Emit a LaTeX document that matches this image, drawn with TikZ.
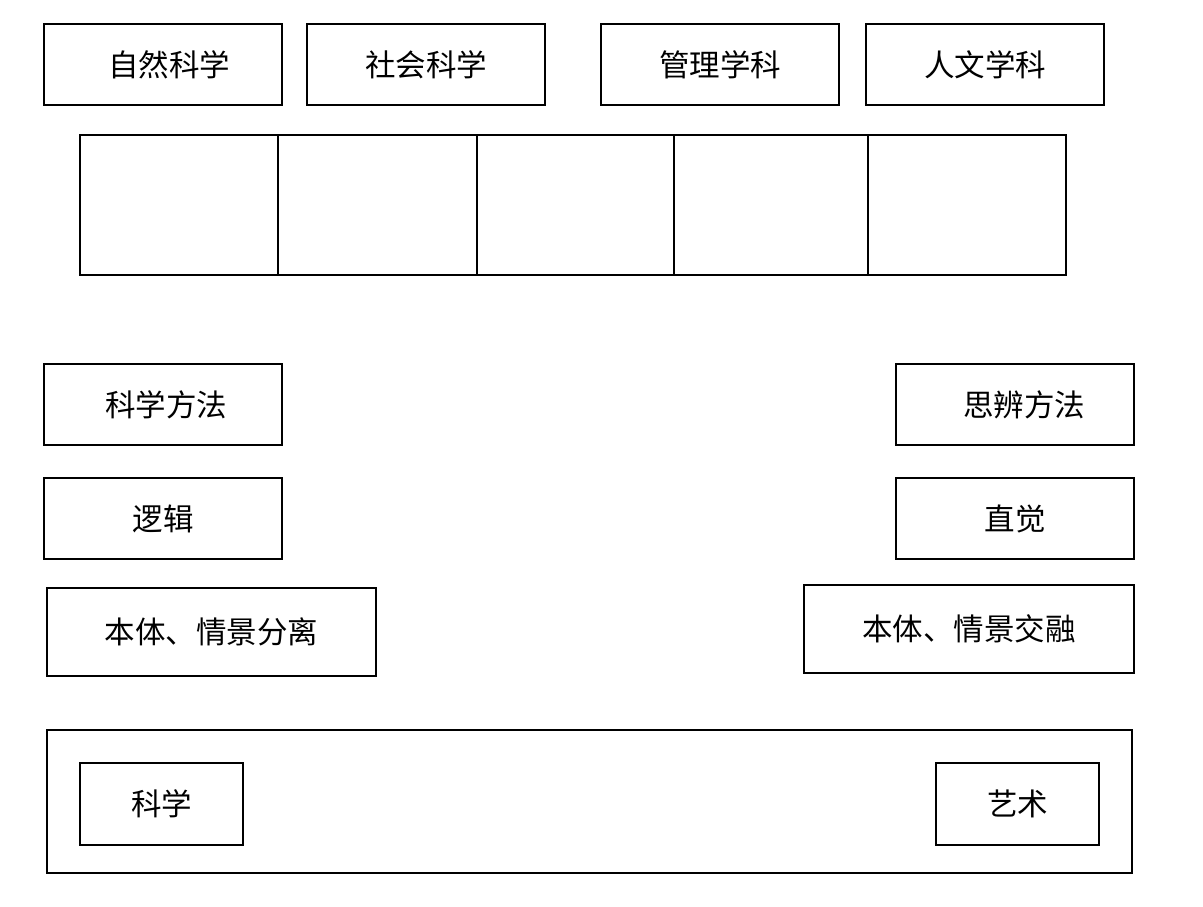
\documentclass[tikz,border=0pt]{standalone}
\usepackage{fontspec}
\setmainfont{Noto Sans CJK SC}
\begin{document}
\begin{tikzpicture}[x=1pt,y=-1pt,
  box/.style={draw=black,line width=2.2pt,inner sep=0pt,font=\fontsize{30.5pt}{33pt}\selectfont},
  cell/.style={draw=black,line width=2.8pt,inner sep=0pt}]
\useasboundingbox[fill=white] (0,0) rectangle (1203,907);
% top row
\node[box,minimum width=238pt,minimum height=81pt] (zr) at (163,64.5) {\hspace*{12pt}自然科学};
\node[box,minimum width=238pt,minimum height=81pt] (sh) at (426,64.5) {社会科学};
\node[box,minimum width=238pt,minimum height=81pt] (gl) at (720,64.5) {管理学科};
\node[box,minimum width=238pt,minimum height=81pt] (rw) at (985,64.5) {人文学科};
% cells
\node[cell,minimum width=198pt,minimum height=140pt] (c1) at (179,205) {};
\node[cell,minimum width=199pt,minimum height=140pt] (c2) at (377.5,205) {};
\node[cell,minimum width=197pt,minimum height=140pt] (c3) at (575.5,205) {};
\node[cell,minimum width=194pt,minimum height=140pt] (c4) at (771,205) {};
\node[cell,minimum width=198pt,minimum height=140pt] (c5) at (967,205) {};
% left column
\node[box,minimum width=238pt,minimum height=81pt] (kxff) at (163,404.5) {\hspace*{6pt}科学方法};
\node[box,minimum width=238pt,minimum height=81pt] (lj) at (163,518.5) {逻辑};
\node[box,minimum width=329pt,minimum height=88pt] (fl) at (211.5,632) {本体、情景分离};
% right column
\node[box,minimum width=238pt,minimum height=81pt] (sbff) at (1015,404.5) {\hspace*{18pt}思辨方法};
\node[box,minimum width=238pt,minimum height=81pt] (zj) at (1015,518.5) {直觉};
\node[box,minimum width=330pt,minimum height=88pt] (jr) at (969,629) {本体、情景交融};
% bottom
\node[box,minimum width=1085pt,minimum height=143pt] (outer) at (589.5,801.5) {};
\node[box,minimum width=163pt,minimum height=82pt] (kx) at (161.5,804) {科学};
\node[box,minimum width=163pt,minimum height=82pt] (ys) at (1017.5,804) {艺术};
\end{tikzpicture}
\end{document}
